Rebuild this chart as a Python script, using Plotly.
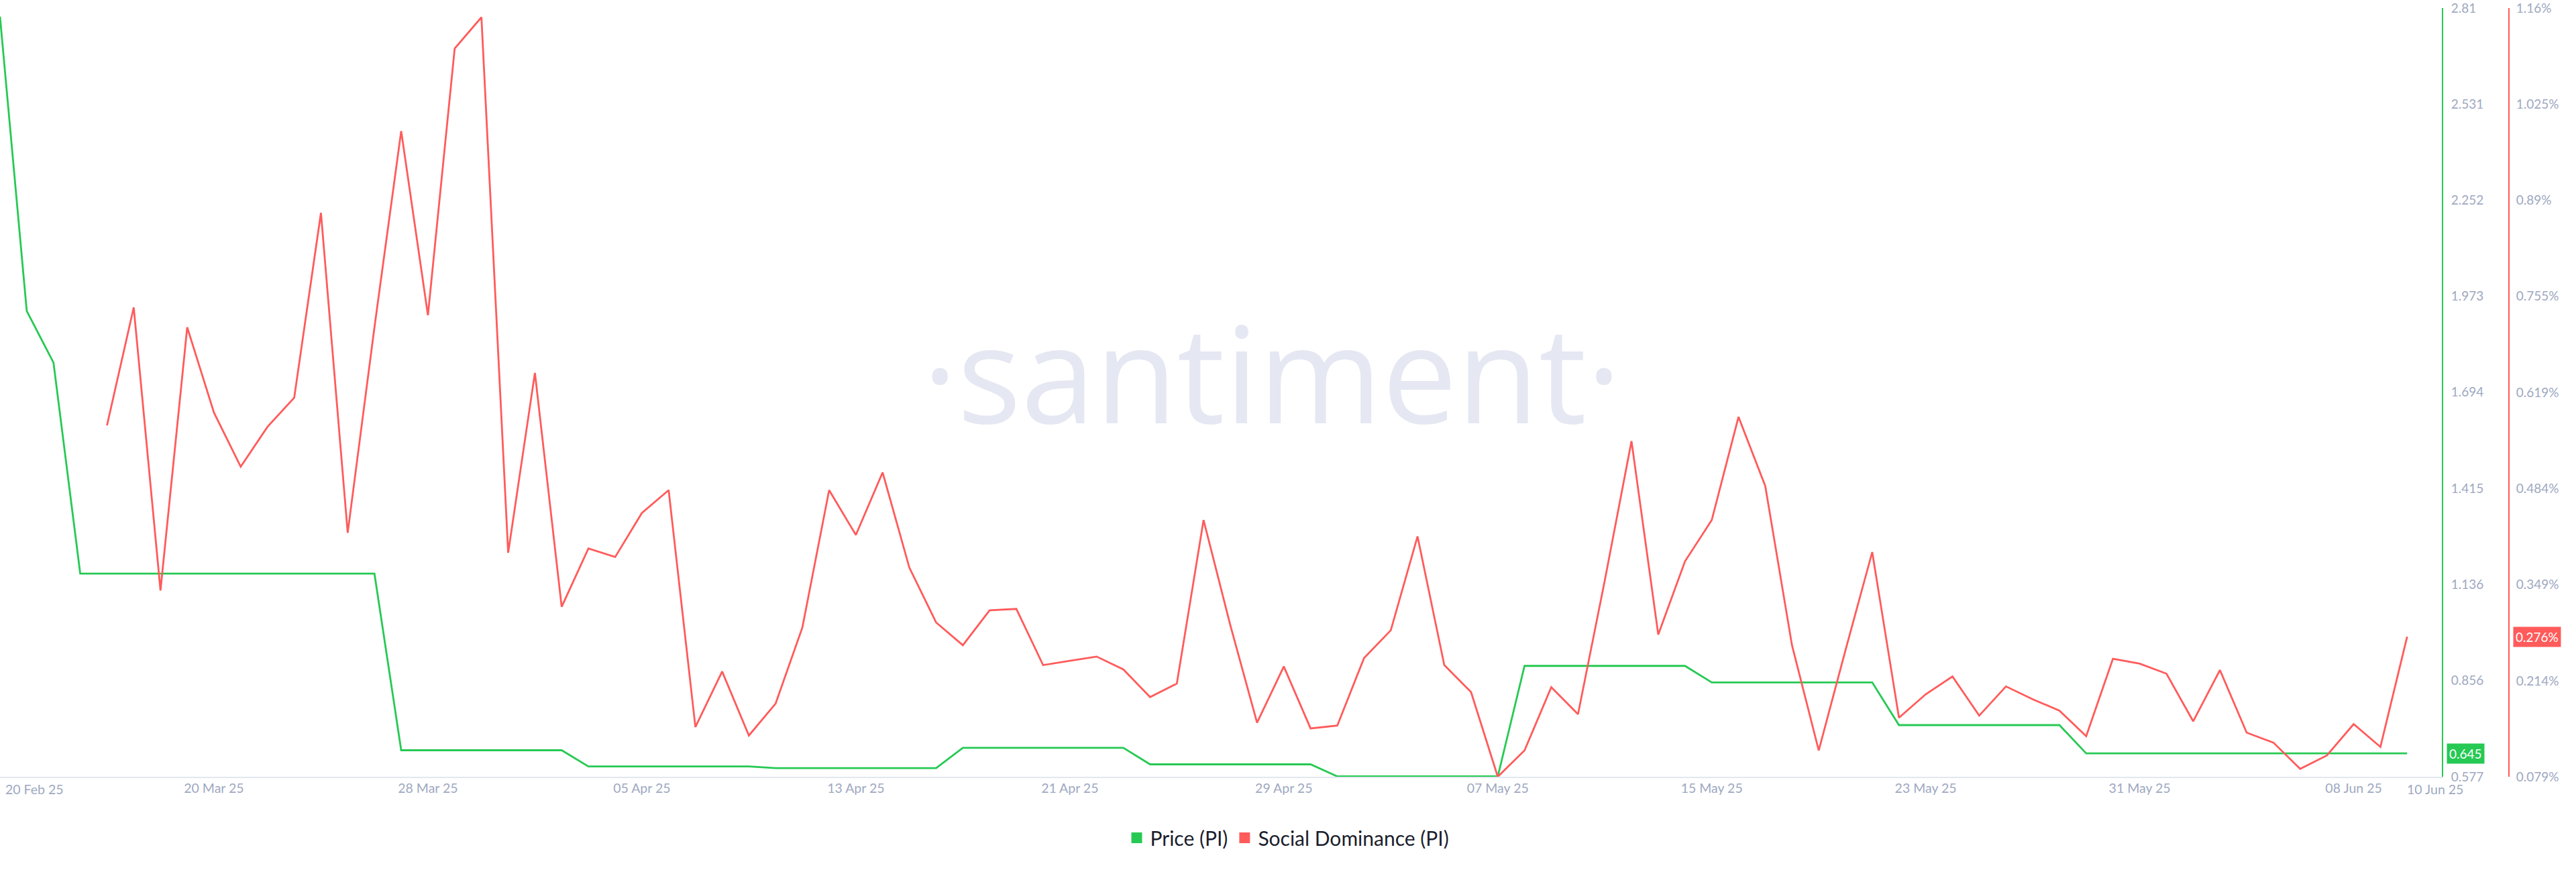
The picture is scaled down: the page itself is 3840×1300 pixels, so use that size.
import pandas as pd
import plotly.graph_objects as go

# ---------------- data ----------------
start_date = "2025-03-12"
n_days = 91
dates = pd.date_range(start_date, periods=n_days, freq="D")

price = [
    2.785, 1.93, 1.78,
    1.167, 1.167, 1.167, 1.167, 1.167, 1.167, 1.167, 1.167, 1.167, 1.167, 1.167, 1.167,
    0.654, 0.654, 0.654, 0.654, 0.654, 0.654, 0.654,
    0.607, 0.607, 0.607, 0.607, 0.607, 0.607, 0.607,
    0.602, 0.602, 0.602, 0.602, 0.602, 0.602, 0.602,
    0.661, 0.661, 0.661, 0.661, 0.661, 0.661, 0.661,
    0.613, 0.613, 0.613, 0.613, 0.613, 0.613, 0.613,
    0.578, 0.578, 0.578, 0.578, 0.578, 0.578, 0.578,
    0.899, 0.899, 0.899, 0.899, 0.899, 0.899, 0.899,
    0.851, 0.851, 0.851, 0.851, 0.851, 0.851, 0.851,
    0.727, 0.727, 0.727, 0.727, 0.727, 0.727, 0.727,
    0.645, 0.645, 0.645, 0.645, 0.645, 0.645, 0.645, 0.645, 0.645, 0.645, 0.645, 0.645, 0.645,
]

social_dominance = [
    None, None, None, None,
    0.573, 0.739, 0.341, 0.711, 0.591, 0.515, 0.571, 0.612, 0.872, 0.422, 0.711, 0.987,
    0.728, 1.103, 1.147,
    0.394, 0.647, 0.318, 0.400, 0.388, 0.450, 0.482, 0.149, 0.227, 0.137, 0.182, 0.289,
    0.482, 0.419, 0.507, 0.373, 0.296, 0.264,
    0.313, 0.315, 0.236, 0.242, 0.248, 0.230, 0.191, 0.210, 0.440, 0.292, 0.155, 0.234,
    0.147, 0.151, 0.246, 0.285, 0.417, 0.236, 0.198,
    0.079, 0.116, 0.205, 0.167, 0.355, 0.551, 0.279, 0.382, 0.440, 0.585, 0.488, 0.264,
    0.116, 0.257, 0.395, 0.162, 0.195, 0.220,
    0.165, 0.206, 0.188, 0.172, 0.136, 0.245, 0.238, 0.224, 0.157, 0.229, 0.141, 0.127,
    0.090, 0.109, 0.153, 0.121, 0.276,
]

x_tick_dates = ["2025-03-20", "2025-03-28", "2025-04-05", "2025-04-13", "2025-04-21",
                "2025-04-29", "2025-05-07", "2025-05-15", "2025-05-23", "2025-05-31",
                "2025-06-08"]
x_start_label = "20 Feb 25"
x_end_label = "10 Jun 25"

price_ticks = [0.577, 0.856, 1.136, 1.415, 1.694, 1.973, 2.252, 2.531, 2.81]
price_tick_text = ["0.577", "0.856", "1.136", "1.415", "1.694", "1.973", "2.252", "2.531", "2.81"]
sd_ticks = [0.079, 0.214, 0.349, 0.484, 0.619, 0.755, 0.89, 1.025, 1.16]
sd_tick_text = ["0.079%", "0.214%", "0.349%", "0.484%", "0.619%", "0.755%", "0.89%", "1.025%", "1.16%"]

price_last_label = "0.645"
sd_last_label = "0.276%"

# ---------------- style / layout geometry (page pixels) ----------------
GREEN = "#26c953"
RED = "#ff5b5b"
TICK = "#9ea8c1"
FONT = "Lato"
W, H = 3840, 1300
plot_top, plot_bottom = 12, 1158
plot_h = plot_bottom - plot_top
plot_right = 3640
axis2_x = 3740
px_per_day = 39.87

fig = go.Figure()
fig.add_trace(go.Scatter(x=dates, y=price, mode="lines", line=dict(color=GREEN, width=2.8),
                         yaxis="y", showlegend=False, hoverinfo="skip"))
fig.add_trace(go.Scatter(x=dates, y=social_dominance, mode="lines", line=dict(color=RED, width=2.8),
                         yaxis="y2", showlegend=False, hoverinfo="skip", connectgaps=False))
# legend entries (square markers)
fig.add_trace(go.Scatter(x=[None], y=[None], mode="markers", name="Price (PI)",
                         marker=dict(symbol="square", size=18, color=GREEN)))
fig.add_trace(go.Scatter(x=[None], y=[None], mode="markers", name="Social Dominance (PI)",
                         marker=dict(symbol="square", size=18, color=RED)))

x_start = pd.Timestamp(start_date)
x_end = x_start + pd.Timedelta(days=plot_right / px_per_day)

fig.update_layout(
    width=W, height=H,
    margin=dict(l=0, r=0, t=plot_top, b=H - plot_bottom, autoexpand=False),
    paper_bgcolor="white", plot_bgcolor="white",
    font=dict(family=FONT, color=TICK, size=19),
    xaxis=dict(
        domain=[0, plot_right / W],
        range=[x_start, x_end],
        type="date",
        tickvals=x_tick_dates,
        tickformat="%d %b %y",
        showgrid=False, zeroline=False,
        showline=True, linecolor="#e3e7f0", linewidth=2,
        ticks="", tickfont=dict(size=19.5, color=TICK, family=FONT),
        ticklabelstandoff=-1,
    ),
    yaxis=dict(
        range=[0.577, 2.81], side="right", anchor="x",
        tickvals=price_ticks, ticktext=price_tick_text,
        showgrid=False, zeroline=False,
        showline=True, linecolor=GREEN, linewidth=2,
        ticks="", tickfont=dict(size=19, color=TICK, family=FONT),
        ticklabelstandoff=8, ticklabeloverflow="allow",
    ),
    yaxis2=dict(
        range=[0.079, 1.16], side="right", overlaying="y", anchor="free",
        position=axis2_x / W,
        tickvals=sd_ticks, ticktext=sd_tick_text,
        showgrid=False, zeroline=False,
        showline=True, linecolor=RED, linewidth=2,
        ticks="", tickfont=dict(size=19, color=TICK, family=FONT),
        ticklabelstandoff=6, ticklabeloverflow="allow",
    ),
    legend=dict(orientation="h", x=1920 / W, xanchor="center",
                y=(plot_bottom - 1249) / plot_h, yanchor="middle",
                font=dict(size=30, color="#1b1e2c", family=FONT),
                itemsizing="trace", bgcolor="rgba(0,0,0,0)"),
    showlegend=True,
    hovermode=False,
)

# watermark
fig.add_annotation(text="·santiment·", xref="paper", yref="paper",
                   x=1896 / W, y=(plot_bottom - 553) / plot_h,
                   xanchor="center", yanchor="middle", showarrow=False,
                   font=dict(family="Open Sans", size=199, color="#e5e8f2"))

# edge x labels
fig.add_annotation(text=x_start_label, xref="paper", yref="paper", x=6 / W, y=-18 / plot_h,
                   xanchor="left", yanchor="middle", showarrow=False,
                   font=dict(size=19.5, color=TICK, family=FONT))
fig.add_annotation(text=x_end_label, xref="paper", yref="paper", x=3630 / W, y=-18 / plot_h,
                   xanchor="center", yanchor="middle", showarrow=False,
                   font=dict(size=19.5, color=TICK, family=FONT))

# last value badges
fig.add_annotation(text=price_last_label, xref="paper", yref="y", x=3647 / W, y=price[-1],
                   xanchor="left", yanchor="middle", showarrow=False, bgcolor=GREEN,
                   borderpad=3, font=dict(size=19, color="white", family=FONT))
fig.add_annotation(text=sd_last_label, xref="paper", yref="y2", x=3746 / W, y=social_dominance[-1],
                   xanchor="left", yanchor="middle", showarrow=False, bgcolor=RED,
                   borderpad=3, font=dict(size=19, color="white", family=FONT))

fig.write_html("out.html", config={"displayModeBar": False},
               post_script="document.body.style.margin='0px';")
